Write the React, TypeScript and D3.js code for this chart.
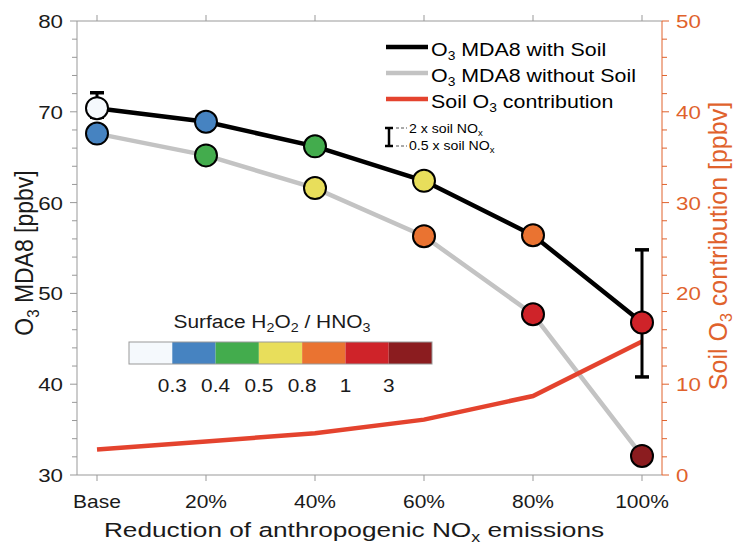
import React from 'react';
import * as d3 from 'd3';

const categories = ['Base', '20%', '40%', '60%', '80%', '100%'];
const withSoil = [70.4, 68.9, 66.2, 62.4, 56.4, 46.8];
const withoutSoil = [67.6, 65.2, 61.6, 56.3, 47.7, 32.1];
const soilContribution = [2.8, 3.7, 4.6, 6.1, 8.7, 14.7];
// color class index (into ratioColors) of each marker
const withSoilClass = [0, 1, 2, 3, 4, 5];
const withoutSoilClass = [1, 2, 3, 4, 5, 6];
// error bars: 0.5 x soil NOx (low) and 2 x soil NOx (high)
const errCategories = ['Base', '100%'];
const errLow = [69.4, 40.8];
const errHigh = [72.1, 54.8];

const ratioColors = ['#f5f9fd', '#4683c1', '#43ac4d', '#e8de5b', '#ea7331', '#cf2329', '#8b1c1f'];
const ratioLabels = ['0.3', '0.4', '0.5', '0.8', '1', '3'];

const leftTicks = d3.range(30, 81, 10);
const rightTicks = d3.range(0, 51, 10);

const W = 736;
const H = 546;
const FONT = '"Liberation Sans", Arial, Helvetica, sans-serif';
const ORANGE = '#e0622c';
const INK = '#1a1a1a';

// text with optional subscripts: parts = ['O', {sub: '3'}, ' MDA8']
function Rich({ parts, subSize, dy }) {
    let shifted = false;
    return parts.map((p, i) => {
        if (typeof p === 'string') {
            const el = (
                <tspan key={i} dy={shifted ? -dy : undefined}>
                    {p}
                </tspan>
            );
            shifted = false;
            return el;
        }
        shifted = true;
        return (
            <tspan key={i} dy={dy} fontSize={subSize}>
                {p.sub}
            </tspan>
        );
    });
}

// the reference text is a little wider than Helvetica, so stretch it
function T({ x, y, size, sx = 1.15, sy = 1, rot = 0, anchor = 'start', fill = INK, children }) {
    return (
        <text
            transform={`translate(${x},${y}) rotate(${rot}) scale(${sx},${sy})`}
            textAnchor={anchor}
            fontSize={size}
            fill={fill}
        >
            {children}
        </text>
    );
}

export default function App() {
    const x0 = 77;
    const x1 = 662;
    const yTop = 21;
    const yBot = 475;

    const x = d3.scalePoint().domain(categories).range([97, 642]);
    const y = d3.scaleLinear().domain([30, 80]).range([yBot, yTop]);
    const yR = d3.scaleLinear().domain([0, 50]).range([yBot, yTop]);

    const lineL = d3
        .line<number>()
        .x((d, i) => x(categories[i]))
        .y(d => y(d));
    const lineR = d3
        .line<number>()
        .x((d, i) => x(categories[i]))
        .y(d => yR(d));

    const cb = d3
        .scaleLinear()
        .domain([0, ratioColors.length])
        .range([129, 432]);

    return (
        <svg
            width={W}
            height={H}
            style={{ position: 'absolute', left: 0, top: 0, background: '#fff' }}
            fontFamily={FONT}
        >
            {/* frame */}
            <line x1={x0} x2={x1} y1={yTop} y2={yTop} stroke="#999" strokeWidth={1} />
            <line x1={x0} x2={x1} y1={yBot} y2={yBot} stroke="#999" strokeWidth={1} />
            <line x1={x0} x2={x0} y1={yTop} y2={yBot} stroke="#999" strokeWidth={1} />
            <line x1={x1} x2={x1} y1={yTop} y2={yBot} stroke={ORANGE} strokeWidth={1} />

            {/* x ticks */}
            {categories.map(c => (
                <g key={c}>
                    <line x1={x(c)} x2={x(c)} y1={yBot} y2={yBot + 6} stroke="#999" />
                    <line x1={x(c)} x2={x(c)} y1={yTop} y2={yTop - 6} stroke="#999" />
                    <T x={x(c)} y={508} size={17.5} sx={1.2} anchor="middle">
                        {c}
                    </T>
                </g>
            ))}

            {/* left ticks */}
            {d3.range(30, 81, 2).map(v => (
                <line key={'l' + v} x1={x0} x2={x0 - (v % 10 === 0 ? 7 : 5)} y1={y(v)} y2={y(v)} stroke="#999" />
            ))}
            {leftTicks.map(v => (
                <T key={'lt' + v} x={63} y={y(v) + 7} size={18.6} sx={1.2} anchor="end">
                    {v}
                </T>
            ))}

            {/* right ticks */}
            {d3.range(0, 51, 2).map(v => (
                <line key={'r' + v} x1={x1} x2={x1 + (v % 10 === 0 ? 7 : 5)} y1={yR(v)} y2={yR(v)} stroke={ORANGE} />
            ))}
            {rightTicks.map(v => (
                <T key={'rt' + v} x={676} y={yR(v) + 7} size={18.6} sx={1.2} fill={ORANGE}>
                    {v}
                </T>
            ))}

            {/* axis titles */}
            <T x={33} y={253} size={23} sx={1} sy={1.1} rot={-90} anchor="middle">
                <Rich parts={['O', { sub: '3' }, ' MDA8 [ppbv]']} subSize={15} dy={5} />
            </T>
            <T x={727} y={246} size={25} sx={1} sy={1} rot={-90} anchor="middle" fill={ORANGE}>
                <Rich parts={['Soil O', { sub: '3' }, ' contribution [ppbv]']} subSize={16} dy={5} />
            </T>
            <T x={354} y={537} size={20.5} sx={1.28} anchor="middle">
                <Rich parts={['Reduction of anthropogenic NO', { sub: 'x' }, ' emissions']} subSize={14} dy={5} />
            </T>

            {/* lines */}
            <path d={lineL(withoutSoil)} fill="none" stroke="#c3c3c3" strokeWidth={4.5} />
            <path d={lineR(soilContribution)} fill="none" stroke="#e4432e" strokeWidth={4.5} />
            <path d={lineL(withSoil)} fill="none" stroke="#000" strokeWidth={4.5} />

            {/* error bars */}
            {errCategories.map((c, i) => (
                <g key={'e' + c} stroke="#000" strokeWidth={3}>
                    <line x1={x(c)} x2={x(c)} y1={y(errLow[i])} y2={y(errHigh[i])} />
                    <line x1={x(c) - 7} x2={x(c) + 7} y1={y(errLow[i])} y2={y(errLow[i])} strokeWidth={3.5} />
                    <line x1={x(c) - 7} x2={x(c) + 7} y1={y(errHigh[i])} y2={y(errHigh[i])} strokeWidth={3.5} />
                </g>
            ))}

            {/* markers */}
            {withoutSoil.map((v, i) => (
                <circle
                    key={'wo' + i}
                    cx={x(categories[i])}
                    cy={y(v)}
                    r={11}
                    fill={ratioColors[withoutSoilClass[i]]}
                    stroke="#000"
                    strokeWidth={2}
                />
            ))}
            {withSoil.map((v, i) => (
                <circle
                    key={'w' + i}
                    cx={x(categories[i])}
                    cy={y(v)}
                    r={11}
                    fill={ratioColors[withSoilClass[i]]}
                    stroke="#000"
                    strokeWidth={2}
                />
            ))}

            {/* legend */}
            <line x1={386} x2={428} y1={47} y2={47} stroke="#000" strokeWidth={4.5} />
            <T x={431} y={56} size={18.6} sx={1.15} fill="#000">
                <Rich parts={['O', { sub: '3' }, ' MDA8 with Soil']} subSize={12} dy={4} />
            </T>
            <line x1={386} x2={428} y1={73} y2={73} stroke="#c3c3c3" strokeWidth={4.5} />
            <T x={431} y={82} size={18.6} sx={1.15} fill="#000">
                <Rich parts={['O', { sub: '3' }, ' MDA8 without Soil']} subSize={12} dy={4} />
            </T>
            <line x1={386} x2={428} y1={99} y2={99} stroke="#e4432e" strokeWidth={4.5} />
            <T x={431} y={108} size={18.6} sx={1.15} fill="#000">
                <Rich parts={['Soil O', { sub: '3' }, ' contribution']} subSize={12} dy={4} />
            </T>

            <g stroke="#000">
                <line x1={389} x2={389} y1={128} y2={146} strokeWidth={2.5} />
                <line x1={385} x2={393} y1={128} y2={128} strokeWidth={2.5} />
                <line x1={385} x2={393} y1={146} y2={146} strokeWidth={2.5} />
                <line x1={396} x2={407} y1={128} y2={128} strokeWidth={1} strokeDasharray="3,2" stroke="#555" />
                <line x1={396} x2={407} y1={146} y2={146} strokeWidth={1} strokeDasharray="3,2" stroke="#555" />
            </g>
            <T x={409} y={133} size={12.5} sx={1.13} fill="#000">
                <Rich parts={['2 x soil NO', { sub: 'x' }]} subSize={8.5} dy={3} />
            </T>
            <T x={409} y={150} size={12.5} sx={1.13} fill="#000">
                <Rich parts={['0.5 x soil NO', { sub: 'x' }]} subSize={8.5} dy={3} />
            </T>

            {/* color bar */}
            <T x={272} y={328} size={19} sx={1.1} anchor="middle">
                <Rich parts={['Surface H', { sub: '2' }, 'O', { sub: '2' }, ' / HNO', { sub: '3' }]} subSize={13} dy={4} />
            </T>
            {ratioColors.map((c, i) => (
                <rect key={'cb' + i} x={cb(i)} y={342} width={cb(i + 1) - cb(i)} height={22} fill={c} />
            ))}
            <rect x={cb(0)} y={342} width={cb(ratioColors.length) - cb(0)} height={22} fill="none" stroke="#999" />
            {ratioLabels.map((l, i) => (
                <T key={'cl' + l} x={cb(i + 1)} y={392} size={18.6} sx={1.12} anchor="middle">
                    {l}
                </T>
            ))}
        </svg>
    );
}
